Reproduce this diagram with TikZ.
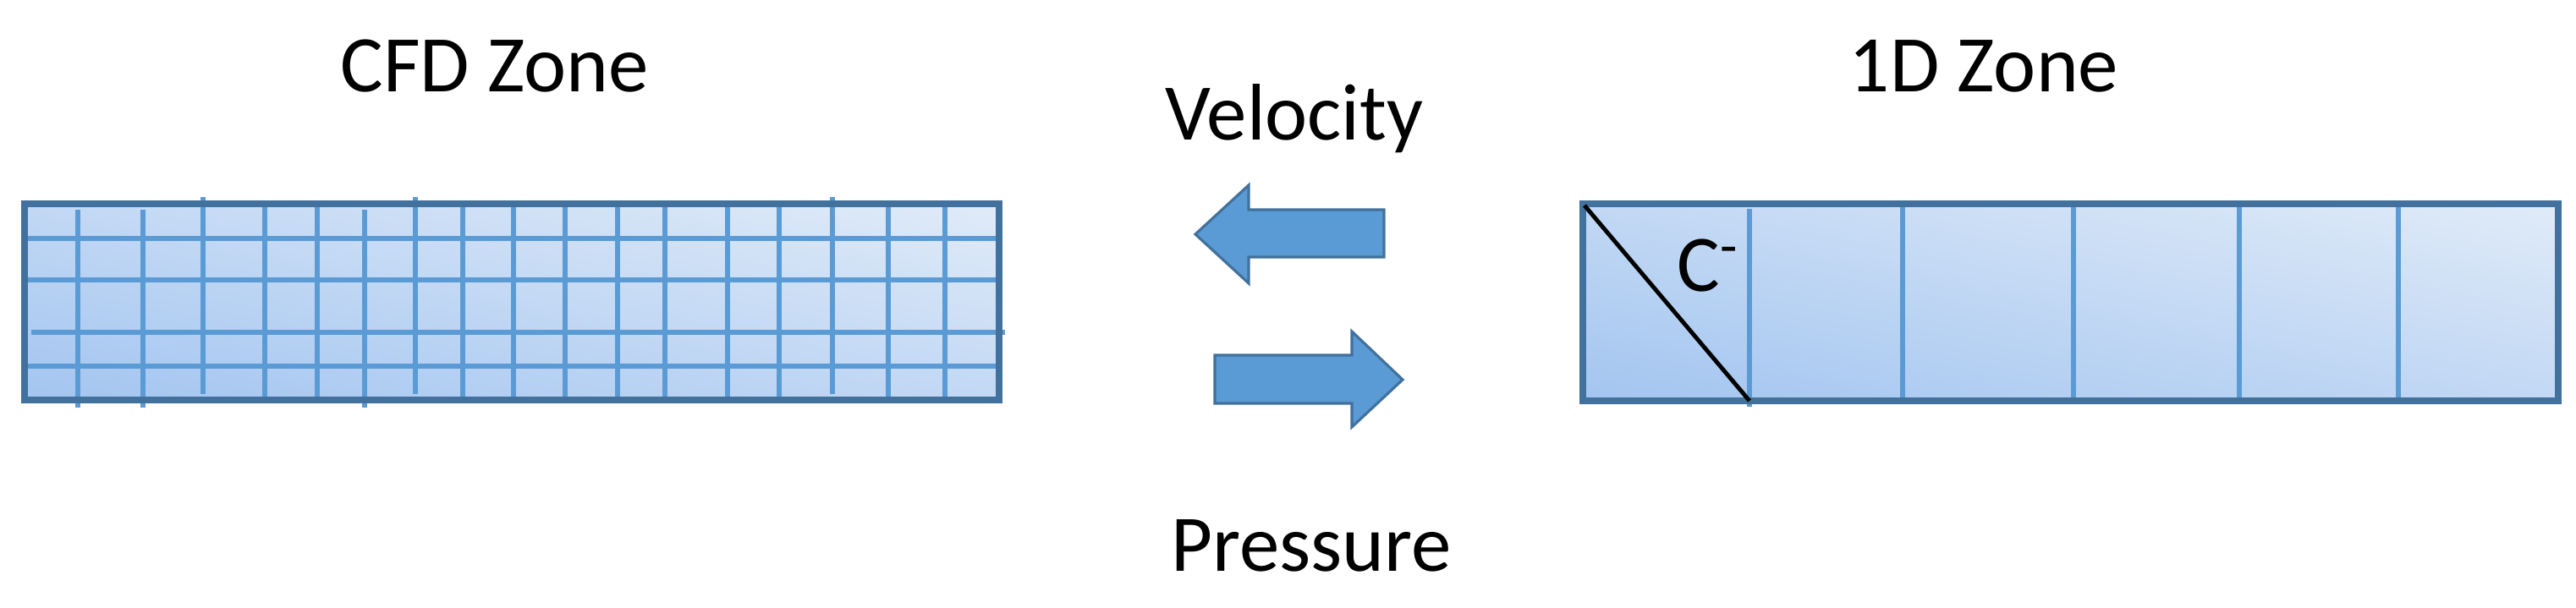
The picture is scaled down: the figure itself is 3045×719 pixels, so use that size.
\documentclass[tikz,border=0pt]{standalone}
\usepackage{fontspec}
\setmainfont{Carlito}
\usetikzlibrary{shadings}
\begin{document}
\begin{tikzpicture}[x=0.01cm,y=-0.01cm,
  box/.style={lower left=fillA,upper right=fillB,upper left=fillM,lower right=fillM},
  grid/.style={draw=gridc,line width=1.5pt},
  arr/.style={fill=arrc,draw=arrb,line width=0.9pt},
  lab/.style={font=\fontsize{27}{30}\selectfont,inner sep=0pt}]
\definecolor{bordc}{HTML}{41719C}
\definecolor{gridc}{HTML}{5B9BD5}
\definecolor{fillA}{HTML}{A3C5F0}
\definecolor{fillB}{HTML}{E0EBF8}
\definecolor{fillM}{HTML}{C2D8F4}
\definecolor{arrc}{HTML}{5B9BD5}
\definecolor{arrb}{HTML}{41719C}
\useasboundingbox (0,0) rectangle (3045,719);
% CFD zone
\shade[box] (29,241) rectangle (1181,473);
\foreach \y in {282,331,433} \draw[grid] (29,\y) -- (1181,\y);
\draw[grid] (37,393) -- (1188,393);
\foreach \x in {313,375,547,607,668,730,786,860,921,1050,1117} \draw[grid] (\x,241) -- (\x,473);
\foreach \x in {92,169,431} \draw[grid] (\x,248) -- (\x,482);
\foreach \x in {240,491,984} \draw[grid] (\x,233) -- (\x,466);
\draw[draw=bordc,line width=2.2pt] (29,241) rectangle (1181,473);
% 1D zone
\shade[box] (1871,241) rectangle (3024,474);
\foreach \x in {2249,2451,2647,2835} \draw[grid] (\x,241) -- (\x,474);
\draw[grid] (2068,247) -- (2068,481);
\draw[draw=bordc,line width=2.2pt] (1871,241) rectangle (3024,474);
\draw[line width=1.4pt] (1873,243) -- (2068,474);
\node[lab,anchor=base west] (cm) at (1982,345) {C\textsuperscript{-}};
% arrows
\path[arr] (1413,277) -- (1476,219) -- (1476,248) -- (1636,248) -- (1636,304) -- (1476,304) -- (1476,335) -- cycle;
\path[arr] (1658,449) -- (1598,392) -- (1598,420) -- (1436,420) -- (1436,477) -- (1598,477) -- (1598,505) -- cycle;
% labels
\node[lab] (cfd) at (585,78) {CFD Zone};
\node[lab] (od) at (2345,78) {1D Zone};
\node[lab] (vel) at (1530,140) {Velocity};
\node[lab] (pre) at (1550,645) {Pressure};
\end{tikzpicture}
\end{document}
